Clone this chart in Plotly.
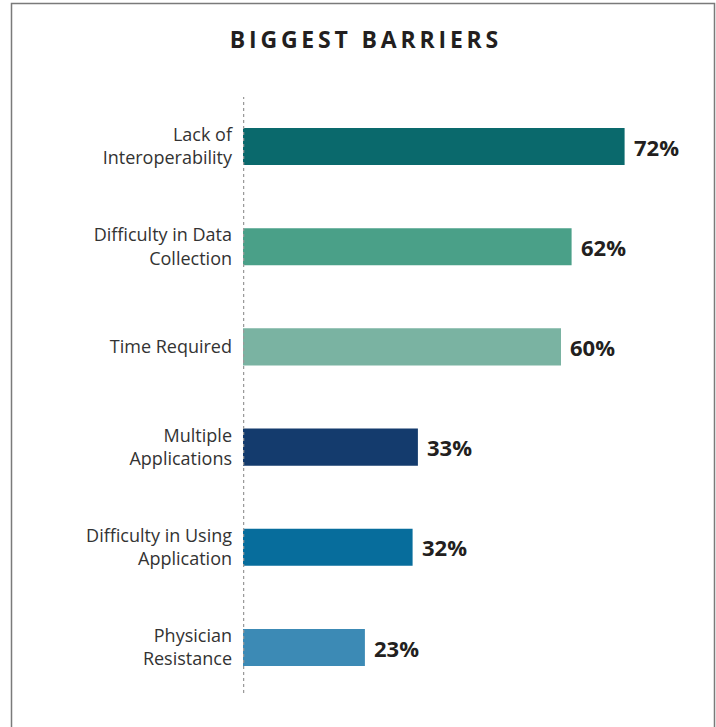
import plotly.graph_objects as go

title_text = "BIGGEST BARRIERS"
categories = ["Lack of<br>Interoperability", "Difficulty in Data<br>Collection", "Time Required",
              "Multiple<br>Applications", "Difficulty in Using<br>Application", "Physician<br>Resistance"]
values = [72, 62, 60, 33, 32, 23]
value_labels = ["72%", "62%", "60%", "33%", "32%", "23%"]
colors = ["#0a696c", "#4aa088", "#7ab3a2", "#143b6d", "#076d9c", "#3c8ab5"]

W, H = 716, 727
L, R, T, B = 243, 16, 97, 34
pw, ph = W - L - R, H - T - B

fig = go.Figure()
fig.add_trace(go.Bar(
    x=values, y=list(range(len(categories))), orientation="h",
    marker=dict(color=colors, line=dict(width=0)), width=0.37,
    hoverinfo="skip",
))
for i, (v, t) in enumerate(zip(values, value_labels)):
    fig.add_annotation(x=v, y=i, text=t, showarrow=False, xanchor="left", xshift=7,
                       font=dict(family="Open Sans", size=22, color="#231f20", weight="bold"))

def px_x(p):
    return (p - L) / pw

def px_y(p):
    return 1 - (p - T) / ph

fig.add_shape(type="line", xref="x", yref="paper", x0=0, x1=0, y0=0, y1=1,
              line=dict(color="#9a9a9a", width=2.5, dash="dot"), layer="above")
fig.add_shape(type="path", xref="paper", yref="paper",
              path=f"M {px_x(11.5)} {px_y(740)} L {px_x(11.5)} {px_y(3.5)} L {px_x(714.5)} {px_y(3.5)} L {px_x(714.5)} {px_y(740)}",
              line=dict(color="#7a7a7a", width=1.5))

spaced_title = " \u2009\u2009".join("\u2009".join(word) for word in title_text.split(" "))

fig.update_layout(
    width=W, height=H,
    margin=dict(l=L, r=R, t=T, b=B),
    paper_bgcolor="white", plot_bgcolor="white",
    showlegend=False,
    title=dict(text=spaced_title,
               x=364 / W, xref="container", xanchor="center", y=1 - 40 / H, yref="container", yanchor="middle",
               font=dict(family="Open Sans", size=23, color="#231f20", weight="bold")),
    xaxis=dict(range=[0, pw / 5.3], visible=False, fixedrange=True),
    yaxis=dict(range=[5.454, -0.494], tickmode="array", tickvals=list(range(len(categories))),
               ticktext=categories, showgrid=False, zeroline=False, showline=False,
               ticks="", ticklabelstandoff=10,
               tickfont=dict(family="Open Sans", size=18, color="#333333")),
)

fig.write_html("out.html")
